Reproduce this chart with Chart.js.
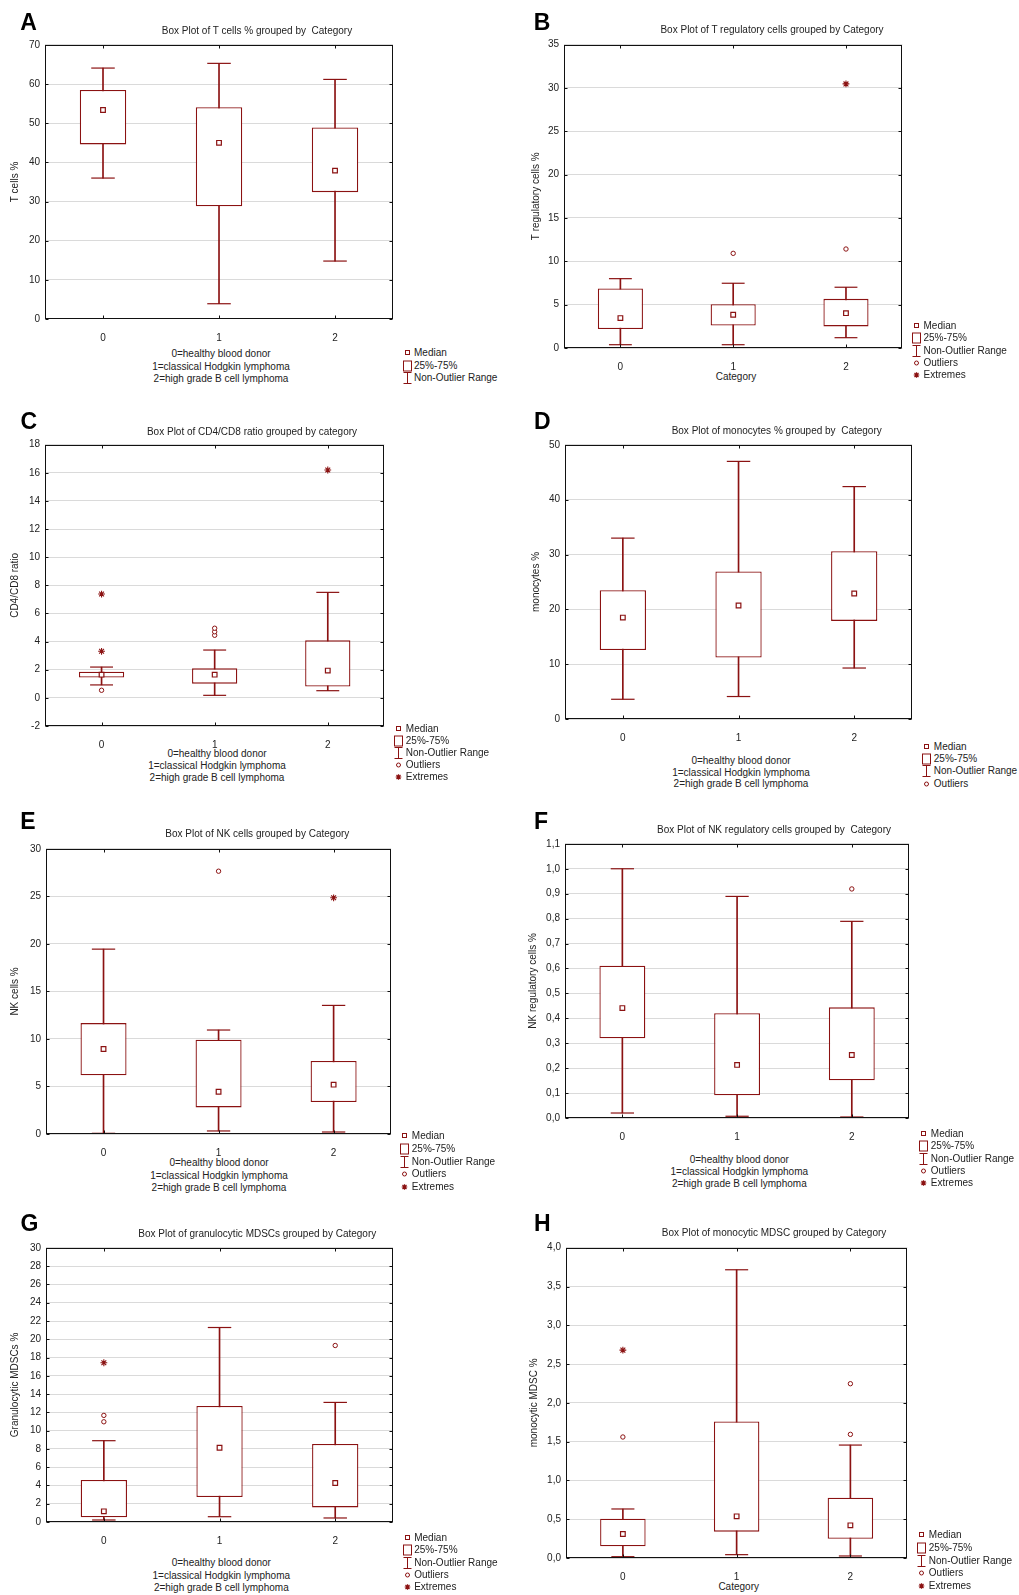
<!DOCTYPE html>
<html>
<head>
<meta charset="utf-8">
<script src="https://cdn.jsdelivr.net/npm/chart.js@4"></script>
<style>
body{margin:0;background:#fff;width:1019px;height:1595px;position:relative;overflow:hidden;font-family:"Liberation Sans",Arial,sans-serif;color:#222}
canvas{position:absolute}
.t{position:absolute;white-space:pre;font-size:10px;line-height:12px;transform:translate(-50%,-50%)}
.lt{position:absolute;white-space:pre;font-size:10px;line-height:12px;transform:translateY(-50%)}
.letter{position:absolute;font-weight:bold;font-size:23px;line-height:23px;color:#000;transform:translate(-50%,-50%)}
svg{position:absolute;overflow:visible}
</style>
</head>
<body>
<script>
const categories = ['0', '1', '2'];

// A  T cells %
const aMin = [36.0, 3.9, 14.8];
const aQ1 = [44.6, 28.8, 32.4];
const aMed = [53.4, 45.0, 37.9];
const aQ3 = [58.5, 54.1, 48.9];
const aMax = [64.1, 65.3, 61.2];
const aOut = [[], [], []];
const aExt = [[], [], []];
const aTicks = [0, 10, 20, 30, 40, 50, 60, 70];

// B  T regulatory cells %
const bMin = [0.38, 0.38, 1.19];
const bQ1 = [2.18, 2.6, 2.49];
const bMed = [3.45, 3.83, 4.02];
const bQ3 = [6.86, 5.06, 5.67];
const bMax = [8.0, 7.47, 7.01];
const bOut = [[], [10.92], [11.42]];
const bExt = [[], [], [30.47]];
const bTicks = [0, 5, 10, 15, 20, 25, 30, 35];

// C  CD4/CD8 ratio
const cMin = [0.92, 0.18, 0.51];
const cQ1 = [1.44, 1.01, 0.80];
const cMed = [1.65, 1.65, 1.94];
const cQ3 = [1.86, 2.10, 4.09];
const cMax = [2.19, 3.40, 7.50];
const cOut = [[0.54], [4.45, 4.7, 4.95], []];
const cExt = [[3.31, 7.38], [], [16.2]];
const cTicks = [-2, 0, 2, 4, 6, 8, 10, 12, 14, 16, 18];

// D  monocytes %
const dMin = [3.6, 4.1, 9.3];
const dQ1 = [12.6, 11.2, 17.9];
const dMed = [18.5, 20.7, 22.9];
const dQ3 = [23.5, 26.9, 30.6];
const dMax = [33.0, 47.0, 42.4];
const dOut = [[], [], []];
const dExt = [[], [], []];
const dTicks = [0, 10, 20, 30, 40, 50];

// E  NK cells %
const eMin = [0.07, 0.32, 0.21];
const eQ1 = [6.17, 2.80, 3.36];
const eMed = [8.94, 4.45, 5.19];
const eQ3 = [11.67, 9.92, 7.68];
const eMax = [19.45, 10.94, 13.53];
const eOut = [[], [27.65], []];
const eExt = [[], [], [24.85]];
const eTicks = [0, 5, 10, 15, 20, 25, 30];

// F  NK regulatory cells %
const fMin = [0.02, 0.007, 0.004];
const fQ1 = [0.32, 0.091, 0.151];
const fMed = [0.441, 0.213, 0.253];
const fQ3 = [0.611, 0.42, 0.444];
const fMax = [1.0, 0.889, 0.789];
const fOut = [[], [], [0.919]];
const fExt = [[], [], []];
const fTicks = [0, 0.1, 0.2, 0.3, 0.4, 0.5, 0.6, 0.7, 0.8, 0.9, 1.0, 1.1];

// G  granulocytic MDSCs %
const gMin = [0.22, 0.58, 0.44];
const gQ1 = [0.51, 2.73, 1.6];
const gMed = [1.17, 8.13, 4.27];
const gQ3 = [4.59, 12.69, 8.53];
const gMax = [8.9, 21.29, 13.09];
const gOut = [[10.97, 11.67], [], [19.32]];
const gExt = [[17.43], [], []];
const gTicks = [0, 2, 4, 6, 8, 10, 12, 14, 16, 18, 20, 22, 24, 26, 28, 30];

// H  monocytic MDSC %
const hMin = [0.017, 0.043, 0.026];
const hQ1 = [0.15, 0.34, 0.249];
const hMed = [0.309, 0.537, 0.421];
const hQ3 = [0.507, 1.76, 0.778];
const hMax = [0.632, 3.716, 1.456];
const hOut = [[1.56], [], [1.594, 2.247]];
const hExt = [[2.68], [], []];
const hTicks = [0, 0.5, 1.0, 1.5, 2.0, 2.5, 3.0, 3.5, 4.0];

const descLines = ['0=healthy blood donor', '1=classical Hodgkin lymphoma', '2=high grade B cell lymphoma'];
const legendAll = ['Median', '25%-75%', 'Non-Outlier Range', 'Outliers', 'Extremes'];

const RED = '#8b1212';
const FONT = '"Liberation Sans", Arial, sans-serif';
const comma = v => v.toFixed(1).replace('.', ',');

// draws the black frame and the small inner tick marks
const frame = {
  id: 'frame',
  afterDraw(chart) {
    const {ctx, chartArea: a, scales: {x, y}} = chart;
    const l = Math.round(a.left) + 0.5, r = Math.round(a.right) - 0.5;
    const t = Math.round(a.top) + 0.5, b = Math.round(a.bottom) - 0.5;
    ctx.save();
    ctx.strokeStyle = '#111';
    ctx.lineWidth = 1;
    ctx.strokeRect(l, t, r - l, b - t);
    ctx.beginPath();
    y.ticks.forEach(tk => {
      const py = Math.round(y.getPixelForValue(tk.value)) + 0.5;
      ctx.moveTo(l, py); ctx.lineTo(l + 3, py);
      ctx.moveTo(r - 3, py); ctx.lineTo(r, py);
    });
    categories.forEach((c, i) => {
      const px = Math.round(x.getPixelForTick(i)) + 0.5;
      ctx.moveTo(px, t); ctx.lineTo(px, t + 3);
      ctx.moveTo(px, b - 3); ctx.lineTo(px, b);
    });
    ctx.stroke();
    ctx.restore();
  }
};

function addText(cls, txt, x, y, extra) {
  const d = document.createElement('div');
  d.className = cls;
  d.textContent = txt;
  d.style.left = x + 'px';
  d.style.top = y + 'px';
  if (extra) Object.assign(d.style, extra);
  document.body.appendChild(d);
}

const icons = {
  'Median': `<rect x="2.5" y="-2.5" width="4" height="4" fill="#fff" stroke="${RED}"/>`,
  '25%-75%': `<rect x="0.5" y="-5" width="8" height="10" fill="#fff" stroke="${RED}"/>`,
  'Non-Outlier Range': `<path d="M0.5 -5.5H8.5M4.5 -5.5V5.5M0.5 5.5H8.5" stroke="${RED}" fill="none"/>`,
  'Outliers': `<circle cx="4.5" cy="0" r="2" fill="#fff" stroke="${RED}"/>`,
  'Extremes': `<path d="M4.5 -2.8V2.8M1.7 0H7.3M2.5 -2L6.5 2M2.5 2L6.5 -2" stroke="${RED}" stroke-width="1.2" fill="none"/>`
};

function legend(x, y, step, items) {
  items.forEach((name, i) => {
    const yy = y + i * step;
    const s = document.createElementNS('http://www.w3.org/2000/svg', 'svg');
    s.setAttribute('width', 10); s.setAttribute('height', 1);
    s.style.left = x + 'px'; s.style.top = yy + 'px';
    s.innerHTML = icons[name];
    document.body.appendChild(s);
    addText('lt', name, x + 11.5, yy);
  });
}

function boxChart(p) {
  const cv = document.createElement('canvas');
  const [L, T, R, B] = p.plot;
  const top = T - 12;
  cv.width = R - p.x0 + 8;
  cv.height = B - top + 22;
  cv.style.left = p.x0 + 'px';
  cv.style.top = top + 'px';
  document.body.appendChild(cv);
  const pts = arr => arr.flatMap((vals, i) => vals.map(v => ({x: categories[i], y: v})));
  const capR = (R - L) / 30;
  const fontCfg = {size: 10, family: FONT};
  new Chart(cv, {
    data: {
      labels: categories,
      datasets: [
        {type: 'bar', data: p.min.map((v, i) => [v, p.max[i]]), barThickness: 1, backgroundColor: RED, borderWidth: 0, grouped: false, order: 4},
        {type: 'bar', data: p.q1.map((v, i) => [v, p.q3[i]]), barPercentage: 0.4, categoryPercentage: 1, backgroundColor: '#fff', borderColor: RED, borderWidth: 1.3, borderSkipped: false, grouped: false, order: 3},
        {type: 'line', data: p.min, showLine: false, pointStyle: 'line', pointRadius: capR, pointBorderColor: RED, borderColor: RED, pointBorderWidth: 1.2, clip: false, order: 2},
        {type: 'line', data: p.max, showLine: false, pointStyle: 'line', pointRadius: capR, pointBorderColor: RED, borderColor: RED, pointBorderWidth: 1.2, clip: false, order: 2},
        {type: 'line', data: p.med, showLine: false, pointStyle: 'rect', pointRadius: 3.3, pointBackgroundColor: '#fff', pointBorderColor: RED, pointBorderWidth: 1.2, clip: false, order: 1},
        {type: 'line', data: pts(p.out), showLine: false, pointStyle: 'circle', pointRadius: 2.2, pointBackgroundColor: '#fff', pointBorderColor: RED, pointBorderWidth: 1, clip: false, order: 1},
        {type: 'line', data: pts(p.ext), showLine: false, pointStyle: 'star', pointRadius: 3.4, pointBorderColor: RED, pointBorderWidth: 1.1, clip: false, order: 1}
      ]
    },
    options: {
      responsive: false,
      animation: false,
      events: [],
      layout: {padding: {top: 12, right: 8, left: 0, bottom: 0}},
      plugins: {legend: {display: false}, tooltip: {enabled: false}},
      scales: {
        x: {
          type: 'category', offset: true,
          grid: {display: false}, border: {display: false},
          ticks: {color: '#222', font: fontCfg, padding: 5},
          afterFit: s => { s.height = 22; }
        },
        y: {
          min: p.ticks[0], max: p.ticks[p.ticks.length - 1],
          afterBuildTicks: s => { s.ticks = p.ticks.map(v => ({value: v})); },
          grid: {color: '#dadada', drawTicks: false}, border: {display: false},
          ticks: {color: '#222', font: fontCfg, padding: 5, callback: p.fmt || (v => String(v))},
          title: {display: true, text: p.ylabel, color: '#222', font: fontCfg, padding: {top: p.ytx - p.x0 - 6, bottom: 0}},
          afterFit: s => { s.width = L - p.x0; }
        }
      }
    },
    plugins: [frame]
  });
  addText('t', p.title, p.titlePos[0], p.titlePos[1]);
  addText('letter', p.letter, p.letterPos[0], p.letterPos[1]);
  if (p.desc) descLines.forEach((ln, i) => addText('t', ln, p.desc[0], p.desc[1] + i * p.desc[2]));
  if (p.xtitle) addText('t', 'Category', p.xtitle[0], p.xtitle[1]);
  legend(p.legend[0], p.legend[1], p.legend[2], legendAll.slice(0, p.legend[3]));
}

boxChart({letter: 'A', letterPos: [28.5, 21.5], title: 'Box Plot of T cells % grouped by  Category', titlePos: [257, 31],
  x0: 0, plot: [45, 44, 398, 319], ytx: 15, ylabel: 'T cells %', ticks: aTicks,
  min: aMin, q1: aQ1, med: aMed, q3: aQ3, max: aMax, out: aOut, ext: aExt,
  desc: [221, 354, 12.5], legend: [402.5, 353, 12.5, 3]});

boxChart({letter: 'B', letterPos: [542, 21.5], title: 'Box Plot of T regulatory cells grouped by Category', titlePos: [772, 30],
  x0: 510, plot: [564, 44, 907, 348], ytx: 536, ylabel: 'T regulatory cells %', ticks: bTicks,
  min: bMin, q1: bQ1, med: bMed, q3: bQ3, max: bMax, out: bOut, ext: bExt,
  xtitle: [736, 377], legend: [912, 326, 12.25, 5]});

boxChart({letter: 'C', letterPos: [28.7, 420.8], title: 'Box Plot of CD4/CD8 ratio grouped by category', titlePos: [252, 432.3],
  x0: 0, plot: [45, 444, 389, 726], ytx: 15, ylabel: 'CD4/CD8 ratio', ticks: cTicks,
  min: cMin, q1: cQ1, med: cMed, q3: cQ3, max: cMax, out: cOut, ext: cExt,
  desc: [217, 754.3, 12], legend: [394.3, 729, 12.1, 5]});

boxChart({letter: 'D', letterPos: [542.2, 420.8], title: 'Box Plot of monocytes % grouped by  Category', titlePos: [776.7, 431],
  x0: 510, plot: [565, 444, 917, 719], ytx: 536, ylabel: 'monocytes %', ticks: dTicks,
  min: dMin, q1: dQ1, med: dMed, q3: dQ3, max: dMax, out: dOut, ext: dExt,
  desc: [741, 761.3, 11.5], legend: [922.3, 747, 12.2, 4]});

boxChart({letter: 'E', letterPos: [28, 820.8], title: 'Box Plot of NK cells grouped by Category', titlePos: [257.3, 834.3],
  x0: 0, plot: [46, 848, 396, 1134], ytx: 15, ylabel: 'NK cells %', ticks: eTicks,
  min: eMin, q1: eQ1, med: eMed, q3: eQ3, max: eMax, out: eOut, ext: eExt,
  desc: [219, 1163.3, 12.4], legend: [400.3, 1136, 12.75, 5]});

boxChart({letter: 'F', letterPos: [541, 820.8], title: 'Box Plot of NK regulatory cells grouped by  Category', titlePos: [774, 830.3],
  x0: 510, plot: [565, 843, 914, 1118], ytx: 533, ylabel: 'NK regulatory cells %', ticks: fTicks, fmt: comma,
  min: fMin, q1: fQ1, med: fMed, q3: fQ3, max: fMax, out: fOut, ext: fExt,
  desc: [739.3, 1160.3, 12], legend: [919.3, 1134, 12.3, 5]});

boxChart({letter: 'G', letterPos: [29.5, 1222.8], title: 'Box Plot of granulocytic MDSCs grouped by Category', titlePos: [257.3, 1234.3],
  x0: 0, plot: [46, 1247, 398, 1522], ytx: 15, ylabel: 'Granulocytic MDSCs %', ticks: gTicks,
  min: gMin, q1: gQ1, med: gMed, q3: gQ3, max: gMax, out: gOut, ext: gExt,
  desc: [221.3, 1563.3, 12.5], legend: [402.7, 1538, 12.25, 5]});

boxChart({letter: 'H', letterPos: [542.3, 1223.3], title: 'Box Plot of monocytic MDSC grouped by Category', titlePos: [774, 1233.3],
  x0: 510, plot: [566, 1247, 912, 1558], ytx: 534, ylabel: 'monocytic MDSC %', ticks: hTicks, fmt: comma,
  min: hMin, q1: hQ1, med: hMed, q3: hQ3, max: hMax, out: hOut, ext: hExt,
  xtitle: [738.7, 1587], legend: [917.3, 1535, 12.75, 5]});
</script>
</body>
</html>
